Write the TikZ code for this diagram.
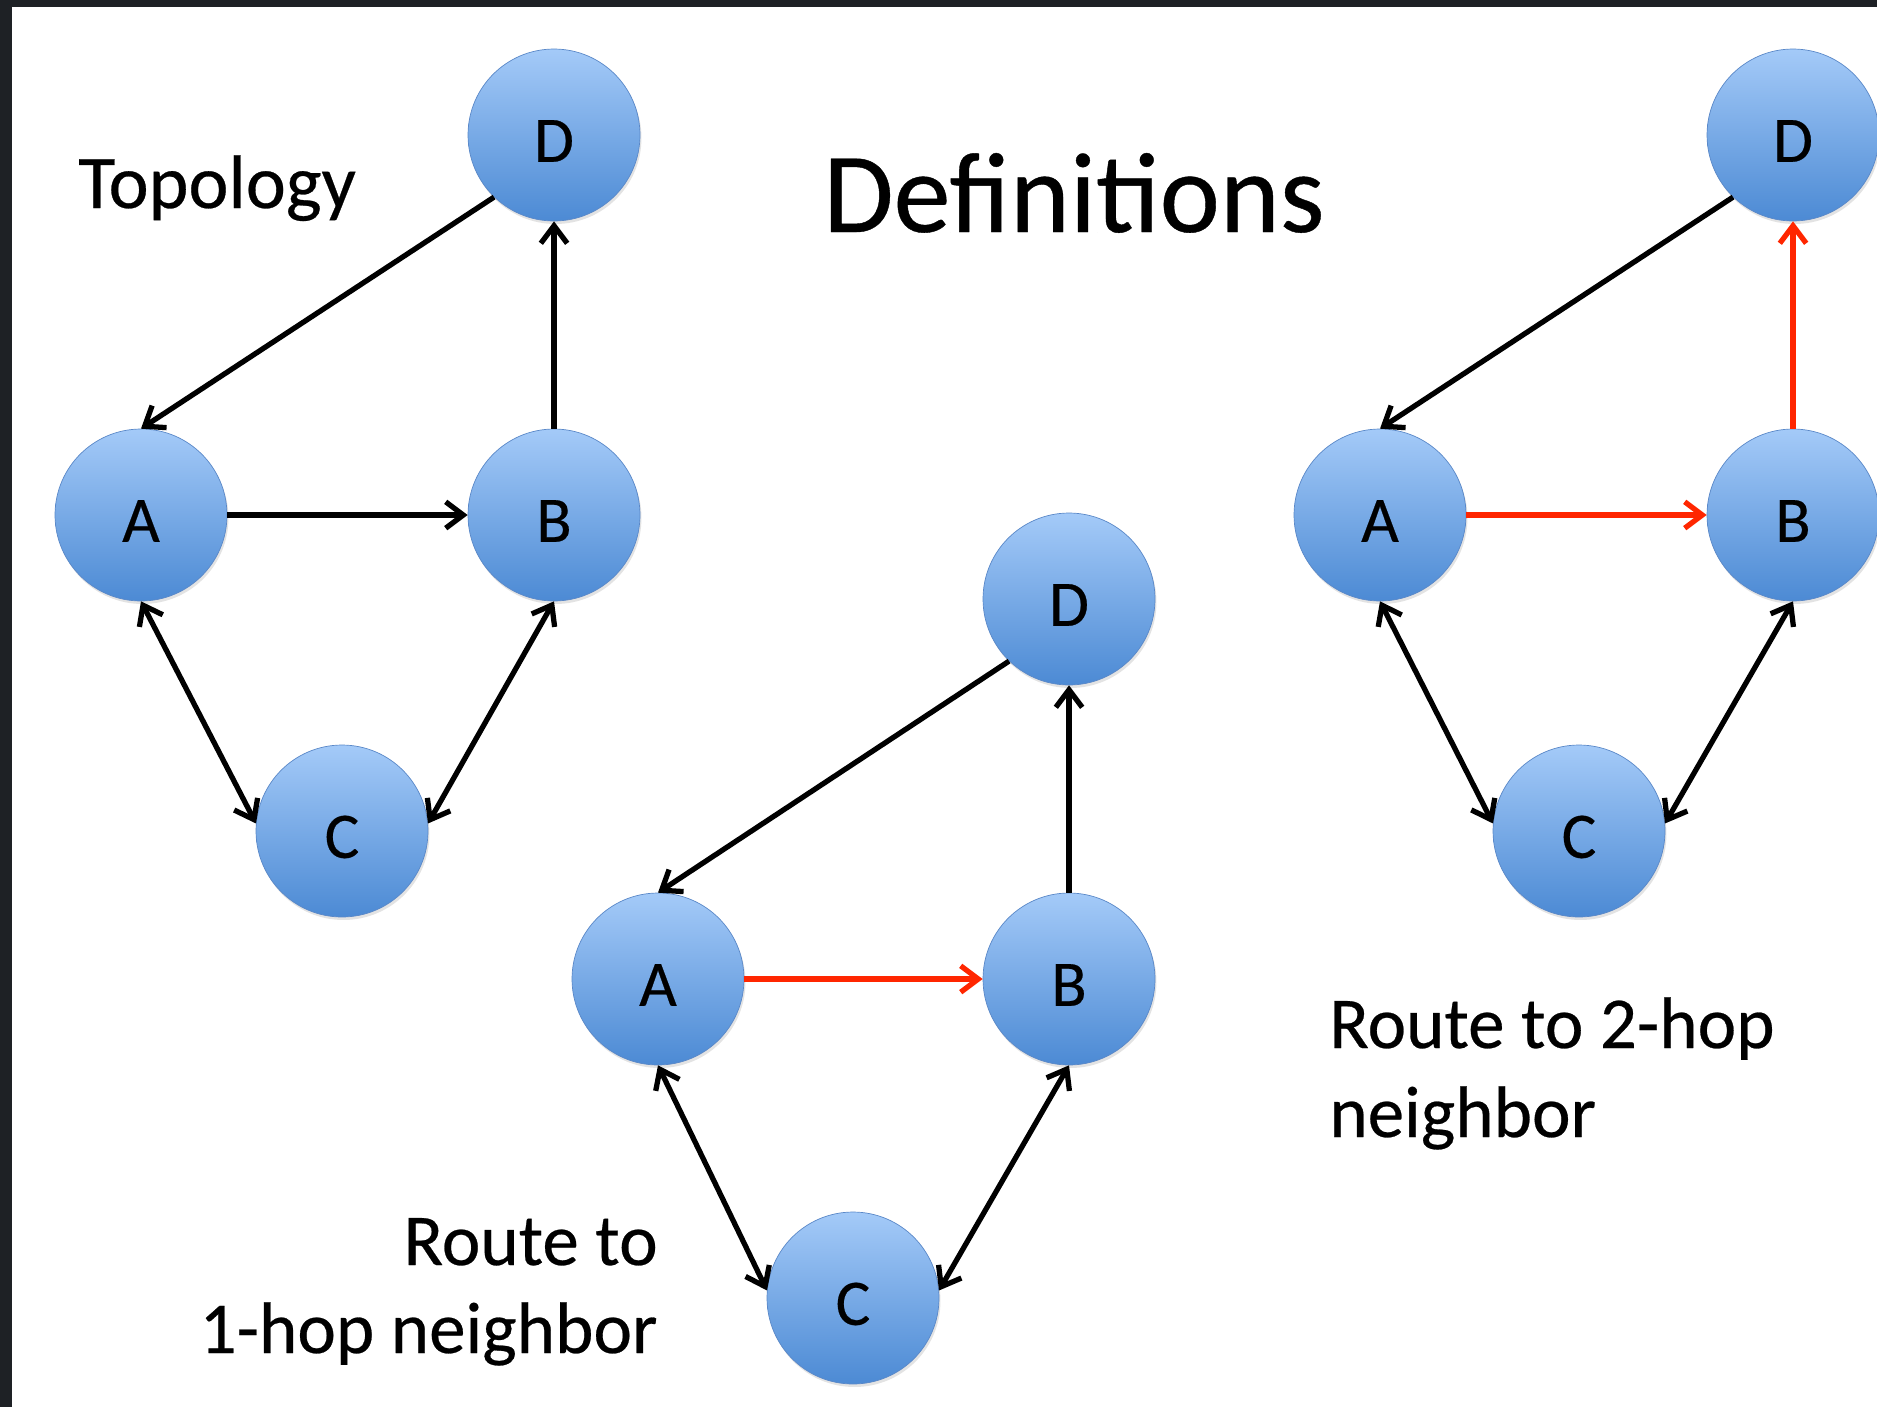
\documentclass[tikz,border=0pt]{standalone}
\usepackage{fontspec}
\setmainfont{Carlito}[FakeBold=0.35]
\usetikzlibrary{arrows.meta,shadows}
\definecolor{nodetop}{RGB}{164,202,248}
\definecolor{nodebot}{RGB}{76,138,212}
\definecolor{nodeedge}{RGB}{90,136,200}
\definecolor{routered}{RGB}{255,38,0}
\definecolor{framedark}{RGB}{30,33,37}
\tikzset{
  netnode/.style={circle, minimum size=3.44cm, inner sep=0pt,
    top color=nodetop, bottom color=nodebot, draw=nodeedge, line width=0.4pt,
    drop shadow={opacity=0.22, shadow xshift=0.03cm, shadow yshift=-0.06cm},
    font=\fontsize{37}{40}\selectfont},
  edgeblack/.style={draw=black, line width=3pt},
  edgered/.style={draw=routered, line width=3pt},
  barb/.tip={Straight Barb[length=10pt,width=15pt]},
  onetip/.style={-barb},
  bothtip/.style={barb-barb},
  lbl/.style={inner sep=0pt, font=\fontsize{41.6}{50}\selectfont},
}
\newcommand{\nl}[1]{\raisebox{-3.4pt}[\height][\depth]{#1}}
\begin{document}
\begin{tikzpicture}[x=0.02cm, y=-0.02cm]
\useasboundingbox (0,0) rectangle (1877,1407);
\fill[framedark] (0,0) rectangle (1877,1407);
\fill[white] (12,7) rectangle (1877,1407);

% titles
\node[inner sep=0pt, anchor=base, font=\fontsize{65}{72}\selectfont] (title) at (1074,232) {Definitions};
\node[inner sep=0pt, anchor=base west, font=\fontsize{43.2}{50}\selectfont] (topo) at (78,208) {Topology};

% left graph
\node[netnode] (D1) at (554,135) {\nl{D}};
\node[netnode] (A1) at (141,515) {\nl{A}};
\node[netnode] (B1) at (554,515) {\nl{B}};
\node[netnode] (C1) at (342,831) {\nl{C}};
\path[edgeblack,onetip] (D1.226) -- (A1.north);
\path[edgeblack,onetip] (A1.east) -- (B1.west);
\path[edgeblack,onetip] (B1.north) -- (D1.south);
\path[edgeblack,bothtip] (A1.south) -- (C1.175);
\path[edgeblack,bothtip] (B1.south) -- (C1.5);

% middle graph
\node[netnode] (D2) at (1069,599) {\nl{D}};
\node[netnode] (A2) at (658,979) {\nl{A}};
\node[netnode] (B2) at (1069,979) {\nl{B}};
\node[netnode] (C2) at (853,1298) {\nl{C}};
\path[edgeblack,onetip] (D2.226) -- (A2.north);
\path[edgered,onetip] (A2.east) -- (B2.west);
\path[edgeblack,onetip] (B2.north) -- (D2.south);
\path[edgeblack,bothtip] (A2.south) -- (C2.175);
\path[edgeblack,bothtip] (B2.south) -- (C2.5);

% right graph
\node[netnode] (D3) at (1793,135) {\nl{D}};
\node[netnode] (A3) at (1380,515) {\nl{A}};
\node[netnode] (B3) at (1793,515) {\nl{B}};
\node[netnode] (C3) at (1579,831) {\nl{C}};
\path[edgeblack,onetip] (D3.226) -- (A3.north);
\path[edgered,onetip] (A3.east) -- (B3.west);
\path[edgered,onetip] (B3.north) -- (D3.south);
\path[edgeblack,bothtip] (A3.south) -- (C3.175);
\path[edgeblack,bothtip] (B3.south) -- (C3.5);

% labels
\node[lbl, anchor=base west] (r2a) at (1329,1048) {Route to 2-hop};
\node[lbl, anchor=base west] (r2b) at (1329,1137) {neighbor};
\node[lbl, anchor=base east] (r1a) at (658,1265) {Route to};
\node[lbl, anchor=base east] (r1b) at (658,1353) {1-hop neighbor};
\end{tikzpicture}
\end{document}
